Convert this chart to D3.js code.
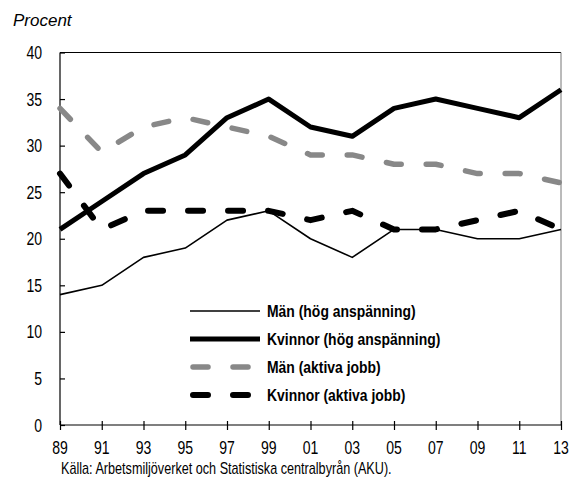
<!DOCTYPE html>
<html>
<head>
<meta charset="utf-8">
<script src="https://cdn.jsdelivr.net/npm/d3@7"></script>
<style>
body { margin: 0; background: #fff; }
svg { display: block; }
.narrow { font-family: 'Liberation Sans', Arial, sans-serif; }
</style>
</head>
<body>
<main></main>
<script>
const years = ["89","91","93","95","97","99","01","03","05","07","09","11","13"];
const manHog = [14, 15, 18, 19, 22, 23, 20, 18, 21, 21, 20, 20, 21];
const kvinnorHog = [21, 24, 27, 29, 33, 35, 32, 31, 34, 35, 34, 33, 36];
const manAktiva = [34, 29.3, 32, 33, 32, 31, 29, 29, 28, 28, 27, 27, 26];
const kvinnorAktiva = [27, 21, 23, 23, 23, 23, 22, 23, 21, 21, 22, 23, 21];
const seriesNames = ["Män (hög anspänning)", "Kvinnor (hög anspänning)", "Män (aktiva jobb)", "Kvinnor (aktiva jobb)"];
const yTicks = [0, 5, 10, 15, 20, 25, 30, 35, 40];

const w = 571, h = 481,
	margin = {top: 52.5, right: 10, bottom: 56, left: 60},
	squeeze = 0.78;

const series = [
	{name: seriesNames[0], values: manHog, color: "#000", width: 1.6, dash: null},
	{name: seriesNames[1], values: kvinnorHog, color: "#000", width: 5, dash: null},
	{name: seriesNames[2], values: manAktiva, color: "#888", width: 5.5, dash: "15,25"},
	{name: seriesNames[3], values: kvinnorAktiva, color: "#000", width: 6, dash: "15,25"}
];

const svg = d3.select("main")
	.append("svg")
	.attr("width", w)
	.attr("height", h);

const xScale = d3.scalePoint()
	.domain(years)
	.range([margin.left, w - margin.right]);
const yScale = d3.scaleLinear()
	.domain([0, 40])
	.range([h - margin.bottom, margin.top]);

// narrow text: the reference uses a condensed face, so squeeze horizontally
function place(x, y, sx) {
	return "translate(" + x + "," + y + ") scale(" + sx + ",1)";
}

// frame
svg.append("line")
	.attr("x1", margin.left).attr("x2", w - margin.right)
	.attr("y1", margin.top).attr("y2", margin.top)
	.attr("stroke", "#000").attr("stroke-width", 1.2);
svg.append("line")
	.attr("x1", margin.left).attr("x2", margin.left)
	.attr("y1", margin.top).attr("y2", h - margin.bottom)
	.attr("stroke", "#000").attr("stroke-width", 1.2);
svg.append("line")
	.attr("x1", w - margin.right).attr("x2", w - margin.right)
	.attr("y1", margin.top).attr("y2", h - margin.bottom)
	.attr("stroke", "#777").attr("stroke-width", 1);
svg.append("line")
	.attr("x1", margin.left).attr("x2", w - margin.right)
	.attr("y1", h - margin.bottom).attr("y2", h - margin.bottom)
	.attr("stroke", "#000").attr("stroke-width", 1.2);

// y axis, ticks pointing inward
const yAxis = d3.axisRight(yScale).tickValues(yTicks).tickSize(5).tickFormat("");
svg.append("g")
	.attr("transform", "translate(" + margin.left + ",0)")
	.call(yAxis)
	.call(g => g.select(".domain").remove())
	.call(g => g.selectAll("line").attr("stroke-width", 1.2));

svg.append("g")
	.selectAll("text")
	.data(yTicks)
	.enter()
	.append("text")
	.attr("class", "narrow")
	.attr("transform", d => place(42, yScale(d) + 6.5, squeeze))
	.attr("text-anchor", "end")
	.style("font-size", "18px")
	.text(d => d);

// x axis, ticks crossing the line
const xAxis = d3.axisBottom(xScale).tickSizeInner(5).tickSizeOuter(0).tickFormat("");
svg.append("g")
	.attr("transform", "translate(0," + (h - margin.bottom) + ")")
	.call(xAxis)
	.call(g => g.select(".domain").remove())
	.call(g => g.selectAll("line").attr("y1", -4).attr("stroke-width", 1.2));

svg.append("g")
	.selectAll("text")
	.data(years)
	.enter()
	.append("text")
	.attr("class", "narrow")
	.attr("transform", d => place(xScale(d), h - margin.bottom + 29, squeeze))
	.attr("text-anchor", "middle")
	.style("font-size", "18px")
	.text(d => d);

// lines
const line = d3.line()
	.x((d, i) => xScale(years[i]))
	.y(d => yScale(d));

svg.append("g")
	.selectAll("path")
	.data(series)
	.enter()
	.append("path")
	.attr("d", d => line(d.values))
	.attr("fill", "none")
	.attr("stroke", d => d.color)
	.attr("stroke-width", d => d.width)
	.attr("stroke-dasharray", d => d.dash)
	.attr("stroke-linecap", d => d.dash ? "round" : "butt")
	.attr("stroke-linejoin", "round");

// legend
const legend = svg.append("g")
	.attr("transform", "translate(190,311)");
const row = legend.selectAll("g")
	.data(series)
	.enter()
	.append("g")
	.attr("transform", (d, i) => "translate(0," + i * 28 + ")");
row.append("line")
	.attr("x1", d => d.dash ? 3 : 0)
	.attr("x2", 70)
	.attr("y1", 0)
	.attr("y2", 0)
	.attr("stroke", d => d.color)
	.attr("stroke-width", d => d.width)
	.attr("stroke-dasharray", d => d.dash ? "15,25" : null)
	.attr("stroke-linecap", d => d.dash ? "round" : "butt");
row.append("text")
	.attr("class", "narrow")
	.attr("transform", place(77, 6, 0.82))
	.style("font-size", "17px")
	.style("font-weight", "bold")
	.text(d => d.name);

svg.append("text")
	.attr("x", 13)
	.attr("y", 26)
	.style("font-family", "'Liberation Sans', Arial, sans-serif")
	.style("font-style", "italic")
	.style("font-size", "17px")
	.text("Procent");

svg.append("text")
	.attr("class", "narrow")
	.attr("transform", place(61, 474, 0.79))
	.style("font-size", "16px")
	.text("Källa: Arbetsmiljöverket och Statistiska centralbyrån (AKU).");
</script>
</body>
</html>
